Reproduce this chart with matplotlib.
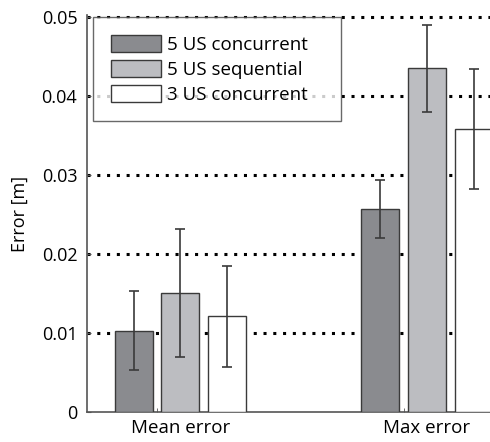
import numpy as np
import matplotlib
matplotlib.use("Agg")
import matplotlib.pyplot as plt

plt.rcParams['font.family'] = ['Open Sans', 'DejaVu Sans']

groups = ["Mean error", "Max error"]
series = ["5 US concurrent", "5 US sequential", "3 US concurrent"]
values = [
    [0.0103, 0.0257],   # 5 US concurrent
    [0.0151, 0.0435],   # 5 US sequential
    [0.0121, 0.0358],   # 3 US concurrent
]
errors = [
    [0.0050, 0.0037],
    [0.0081, 0.0055],
    [0.0064, 0.0076],
]
colors = ["#8a8b8f", "#bcbdc1", "#ffffff"]

fig = plt.figure(figsize=(4.9, 4.42), dpi=100)
# axes runs off the right edge, as in the original crop
ax = fig.add_axes([87 / 490, 30 / 442, 434 / 490, 397 / 442])

x = np.arange(1, len(groups) + 1)
offset = 0.189
width = 0.154
for i, name in enumerate(series):
    ax.bar(x + (i - 1) * offset, values[i], width, color=colors[i],
           edgecolor="#3a3a3a", linewidth=1.0, label=name, zorder=3)
    ax.errorbar(x + (i - 1) * offset, values[i], yerr=errors[i], fmt="none",
                ecolor="#3a3a3a", elinewidth=1.2, capsize=3.5, capthick=1.2, zorder=4)

for yv in [0.01, 0.02, 0.03, 0.04, 0.05]:
    ax.axhline(yv, color="black", linestyle=(0, (1, 2.2)), linewidth=2.2, zorder=1)

ax.set_xlim(0.621, 2.381)
ax.set_ylim(0, 0.05025)
ax.set_yticks([0, 0.01, 0.02, 0.03, 0.04, 0.05])
ax.set_yticklabels(["0", "0.01", "0.02", "0.03", "0.04", "0.05"], fontsize=13)
ax.set_xticks(x)
ax.set_xticklabels(groups, fontsize=13.5)
ax.set_xticks([0.905, 1.907], minor=True)
ax.tick_params(axis="x", which="major", length=0, pad=5)
ax.tick_params(axis="x", which="minor", direction="in", length=3, color="#555555")
ax.tick_params(axis="y", direction="in", length=3, color="#555555", pad=7)
ax.set_ylabel("Error [m]", fontsize=13, labelpad=9)

for s in ["top", "right"]:
    ax.spines[s].set_visible(False)
for s in ["left", "bottom"]:
    ax.spines[s].set_color("#555555")
    ax.spines[s].set_linewidth(1.2)

leg = ax.legend(loc="upper left", bbox_to_anchor=(0.0138, 0.0, 0.571, 0.995),
                mode="expand", fontsize=13.5,
                frameon=True, fancybox=False, edgecolor="#444444",
                handlelength=2.7, handleheight=1.0, labelspacing=0.33,
                borderpad=0.95, handletextpad=0.3, borderaxespad=0)
leg.get_frame().set_linewidth(1.0)
leg.set_zorder(5)

fig.savefig("out.png", dpi=100)
